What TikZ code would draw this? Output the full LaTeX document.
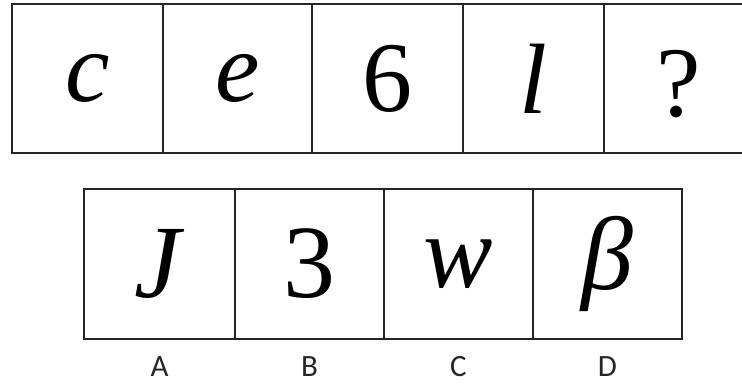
\documentclass[tikz,border=0pt]{standalone}
\usepackage{fontspec}
\setmainfont{Liberation Serif}
\newfontfamily\optfont{Carlito}
\usetikzlibrary{positioning}

\begin{document}
\begin{tikzpicture}[x=1pt,y=-1pt,
    cell/.style={draw=black!85, line width=2pt, outer sep=0pt, inner sep=0pt, minimum height=149pt, font=\fontsize{100}{110}\selectfont},
    choice/.style={cell, minimum width=149pt, minimum height=150pt, font=\fontsize{104}{114}\selectfont},
    optlabel/.style={font=\optfont\fontsize{31}{36}\selectfont, text=black!85, inner sep=1pt}]
    \clip (0,0) rectangle (742,385);
    \node[cell, minimum width=151pt] (t1) at (87.5,78.5) {\textit{c}};
    \node[cell, minimum width=149pt] (t2) at (237.5,78.5) {\textit{e}};
    \node[cell, minimum width=151pt] (t3) at (387.5,78.5) {6};
    \node[cell, minimum width=141pt] (t4) at (533.5,78.5) {\textit{l}};
    \node[cell, minimum width=150pt] (t5) at (679,78.5) {\raisebox{-6pt}[\height][\depth]{?}};
    \node[choice, minimum width=151pt] (b1) at (159.5,264) {\textit{J}};
    \node[choice] (b2) at (309.5,264) {3};
    \node[choice] (b3) at (458.5,264) {\textit{w}};
    \node[choice] (b4) at (607.5,264) {\textit{β}};
    \node[optlabel, below=16pt of b1] (la) {A};
    \node[optlabel, below=16pt of b2] (lb) {B};
    \node[optlabel, below=16pt of b3] (lc) {C};
    \node[optlabel, below=16pt of b4] (ld) {D};
\end{tikzpicture}
\end{document}
